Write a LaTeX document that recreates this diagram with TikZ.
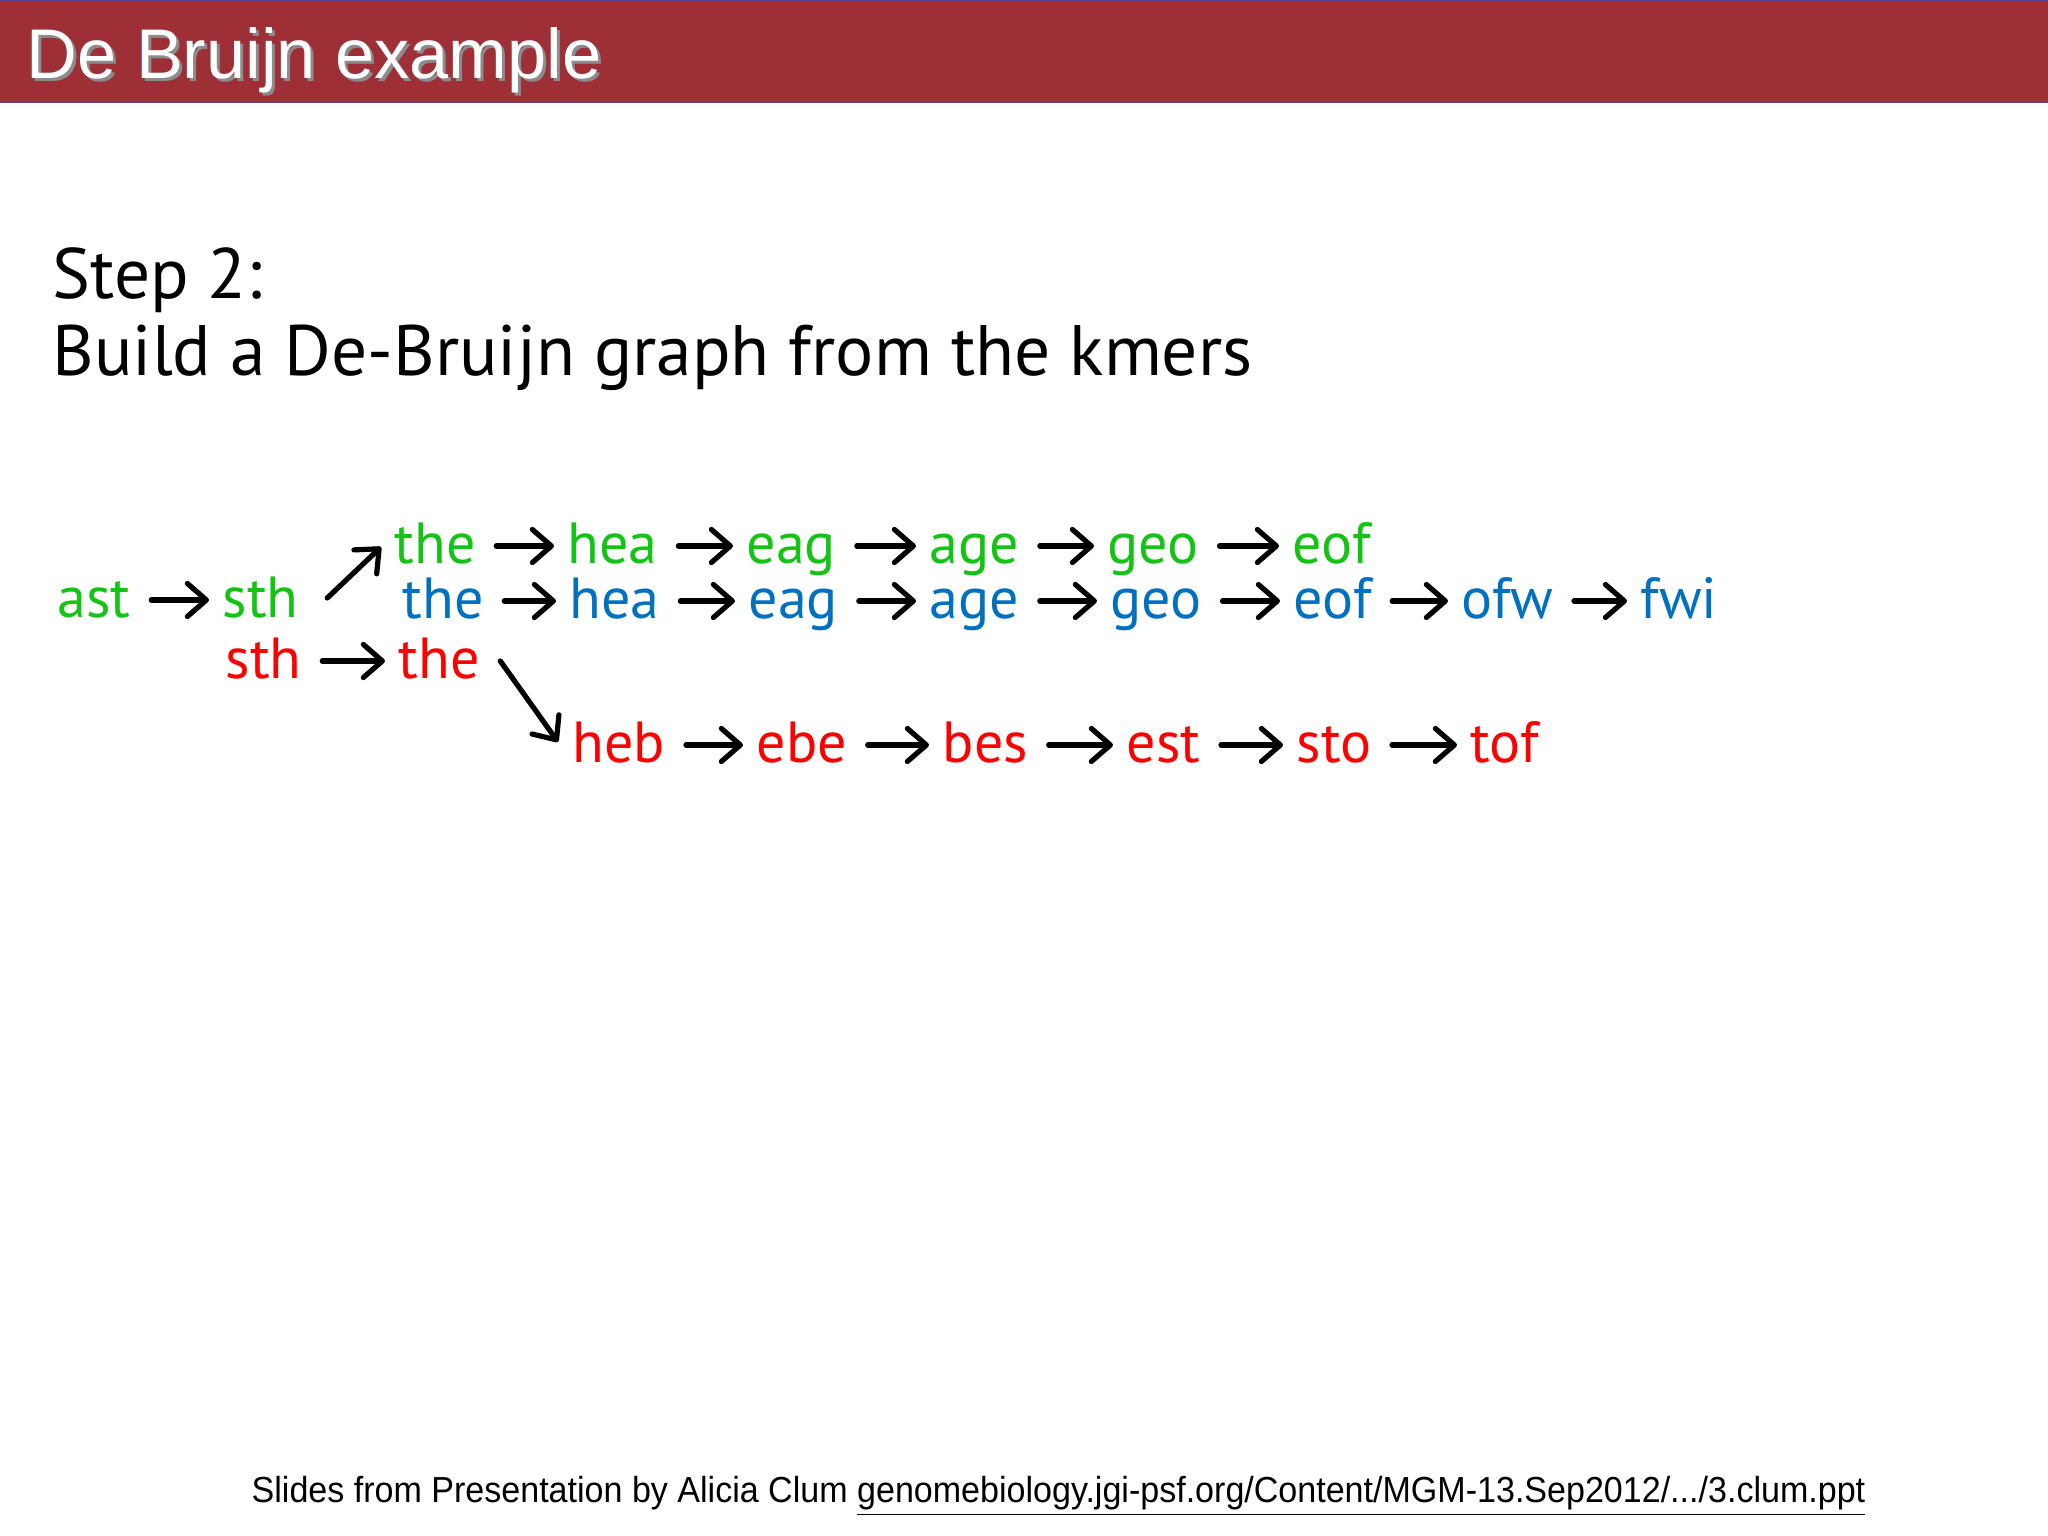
\documentclass[tikz,border=0pt]{standalone}
\usepackage{fontspec}
\setmainfont{PT Sans}
\newfontfamily\headfont{Liberation Sans}
\usetikzlibrary{arrows.meta,calc}
\definecolor{band}{RGB}{158,47,55}
\definecolor{bandline}{RGB}{88,66,150}
\definecolor{kgreen}{RGB}{20,196,20}
\definecolor{kblue}{RGB}{0,112,192}
\definecolor{kred}{RGB}{255,0,0}
\begin{document}
\begin{tikzpicture}[x=0.01cm,y=-0.01cm,
		kmer/.style={anchor=base west,inner sep=0pt,text height=0.34cm,text depth=0pt,font=\fontsize{16.5}{18}\selectfont},
		link/.style={-{Straight Barb[length=0.19cm,width=0.33cm,round]},line width=0.052cm,line cap=round,shorten <=0.2cm,shorten >=0.13cm},
		heading/.style={anchor=base west,inner sep=0pt,font=\headfont\fontsize{20}{24}\selectfont}]
		\useasboundingbox[fill=white] (0,0) rectangle (2048,1536);
		\fill[band] (0,0) rectangle (2048,102);
		\draw[bandline,line width=0.02cm] (0,1) -- (2048,1);
		\draw[bandline,line width=0.02cm] (0,102) -- (2048,102);
		\node[heading,black!45] (shadow) at (29,81) {De Bruijn example};
		\node[heading,white] (title) at (26,78) {De Bruijn example};
		\node[anchor=base west,inner sep=0pt,font=\fontsize{20.3}{24}\selectfont] (step) at (52,298) {Step 2:};
		\node[anchor=base west,inner sep=0pt,font=\fontsize{20.3}{24}\selectfont] (build) at (52,375) {Build a De-Bruijn graph from the kmers};
		\foreach \w/\x in {the/394,hea/567,eag/746,age/929,geo/1107,eof/1292}
			\node[kmer,kgreen] (g\w) at (\x,563) {\w};
		\foreach \w/\x in {the/402,hea/569,eag/748,age/929,geo/1110,eof/1293,ofw/1461,fwi/1640}
			\node[kmer,kblue] (b\w) at (\x,618) {\w};
		\node[kmer,kgreen] (gast) at (57,617) {ast};
		\node[kmer,kgreen] (gsth) at (222,617) {sth};
		\node[kmer,kred] (rsth) at (225,678) {sth};
		\node[kmer,kred] (rthe) at (398,678) {the};
		\foreach \w/\x in {heb/572,ebe/756,bes/942,est/1126,sto/1296,tof/1470}
			\node[kmer,kred] (r\w) at (\x,762) {\w};
		\foreach \a/\b in {the/hea,hea/eag,eag/age,age/geo,geo/eof}
			\draw[link] (g\a.east) -- (g\b.west);
		\foreach \a/\b in {the/hea,hea/eag,eag/age,age/geo,geo/eof,eof/ofw,ofw/fwi}
			\draw[link] (b\a.east) -- (b\b.west);
		\foreach \a/\b in {heb/ebe,ebe/bes,bes/est,est/sto,sto/tof}
			\draw[link] (r\a.east) -- (r\b.west);
		\draw[link] (gast.east) -- (gsth.west);
		\draw[link] (rsth.east) -- (rthe.west);
		\draw[link,shorten <=0pt,shorten >=0pt] ($(gsth.east)+(28,-2)$) -- ($(gthe.west)+(-13,1)$);
		\draw[link,shorten <=0pt,shorten >=0pt] ($(rthe.east)+(20,0)$) -- ($(rheb.west)+(-14,-3)$);
		\node[anchor=base west,inner sep=0pt,font=\headfont\fontsize{10.3}{12}\selectfont] (credit) at (251,1502)
			{\scalebox{0.94}[1]{Slides from Presentation by Alicia Clum \underline{genomebiology.jgi-psf.org/Content/MGM-13.Sep2012/.../3.clum.ppt}}};
	\end{tikzpicture}
\end{document}
